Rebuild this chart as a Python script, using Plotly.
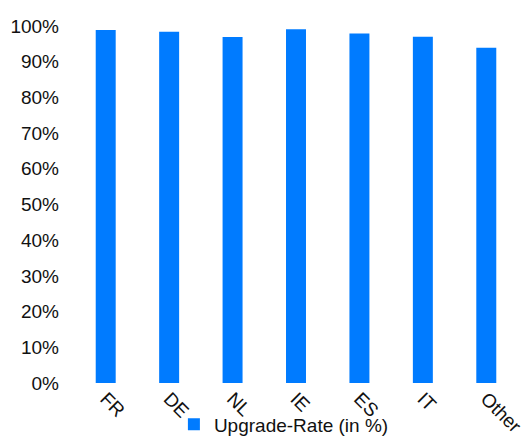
import plotly.graph_objects as go

categories = ["FR", "DE", "NL", "IE", "ES", "IT", "Other"]
upgrade_rate = [0.989, 0.984, 0.969, 0.991, 0.979, 0.970, 0.939]
y_ticks = [0, 0.1, 0.2, 0.3, 0.4, 0.5, 0.6, 0.7, 0.8, 0.9, 1.0]
y_tick_labels = ["0%", "10%", "20%", "30%", "40%", "50%", "60%", "70%", "80%", "90%", "100%"]

font_family = "Liberation Sans, Arial, sans-serif"

fig = go.Figure(
    go.Bar(
        x=categories,
        y=upgrade_rate,
        name="Upgrade-Rate (in %)",
        marker=dict(color="#007BFF", line=dict(width=0)),
    )
)

fig.update_layout(
    width=524,
    height=437,
    margin=dict(l=74, r=6, t=26, b=54, autoexpand=False),
    paper_bgcolor="white",
    plot_bgcolor="white",
    bargap=0.685,
    font=dict(family=font_family, size=19, color="#111111"),
    showlegend=True,
    legend=dict(
        orientation="h",
        x=0.225,
        xanchor="left",
        y=-0.116,
        yanchor="middle",
        font=dict(size=19, color="#111111"),
        bgcolor="rgba(0,0,0,0)",
        itemwidth=30,
    ),
    xaxis=dict(
        tickangle=45,
        showgrid=False,
        showline=False,
        zeroline=False,
        ticks="",
        automargin=False,
        tickfont=dict(size=19),
    ),
    yaxis=dict(
        range=[0, 1.0],
        tickvals=y_ticks,
        ticktext=y_tick_labels,
        showgrid=False,
        showline=False,
        zeroline=False,
        ticks="",
        automargin=False,
        tickfont=dict(size=19),
        ticklabelstandoff=14,
    ),
)

fig.write_html("out.html")
